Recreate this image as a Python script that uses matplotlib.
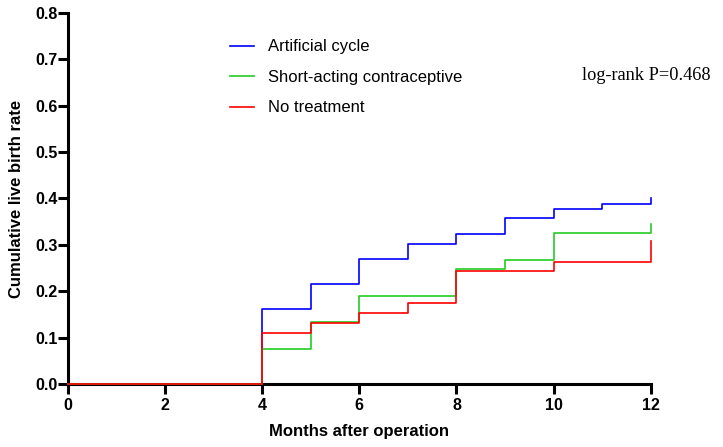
import matplotlib
matplotlib.use("Agg")
import matplotlib.pyplot as plt

months = [0, 4, 5, 6, 7, 8, 9, 10, 11, 12]
artificial = [0.0, 0.162, 0.216, 0.270, 0.302, 0.323, 0.357, 0.378, 0.388, 0.392]
artificial_end = 0.400
short_acting = [0.0, 0.075, 0.133, 0.190, 0.190, 0.247, 0.267, 0.325, 0.325, 0.325]
short_end = 0.344
no_treatment = [0.0, 0.109, 0.131, 0.153, 0.175, 0.243, 0.243, 0.264, 0.264, 0.264]
no_end = 0.309

labels = ["Artificial cycle", "Short-acting contraceptive", "No treatment"]
colors = ["#0000ff", "#22cc22", "#ff0000"]

plt.rcParams['font.family'] = ['Liberation Sans', 'DejaVu Sans']

fig = plt.figure(figsize=(7.23, 4.47), dpi=100)
ax = fig.add_axes([0.094, 0.141, 0.806, 0.830])

series = [(artificial, artificial_end), (short_acting, short_end), (no_treatment, no_end)]
order = [2, 1, 0]
handles = {}
for i in order:
    vals, end = series[i]
    xs = months + [months[-1]]
    ys = vals + [end]
    h, = ax.step(xs, ys, where='post', color=colors[i], lw=1.2, label=labels[i], zorder=3 + i)
    handles[i] = h

ax.set_xlim(0, 12)
ax.set_ylim(0, 0.8)
ax.set_xticks(range(0, 13, 2))
ax.set_yticks([i / 10 for i in range(9)])
ax.set_yticklabels([f"{i/10:.1f}" for i in range(9)])
for s in ['top', 'right']:
    ax.spines[s].set_visible(False)
for s in ['left', 'bottom']:
    ax.spines[s].set_linewidth(2.2)
ax.tick_params(axis='both', width=2.2, length=7, labelsize=11.5, direction='out')
for lab in ax.get_xticklabels() + ax.get_yticklabels():
    lab.set_fontweight('bold')
ax.tick_params(axis='x', pad=3)
ax.tick_params(axis='y', pad=0.5)
for ln in ax.lines:
    ln.set_clip_on(False)

ax.set_xlabel("Months after operation", fontsize=12, fontweight='bold', labelpad=8)
ax.set_ylabel("Cumulative live birth rate", fontsize=12, fontweight='bold', labelpad=8)

leg = ax.legend([handles[0], handles[1], handles[2]], labels, loc='upper left',
                bbox_to_anchor=(0.253, 0.969), frameon=False, fontsize=12,
                handlelength=1.4, handletextpad=0.85, labelspacing=0.93)

ax.text(582, 447 - 75, "log-rank P=0.468", transform=None, ha='left', va='center',
        fontsize=13.2, family=['Liberation Serif', 'DejaVu Serif'])

fig.savefig("out.png", dpi=100)
